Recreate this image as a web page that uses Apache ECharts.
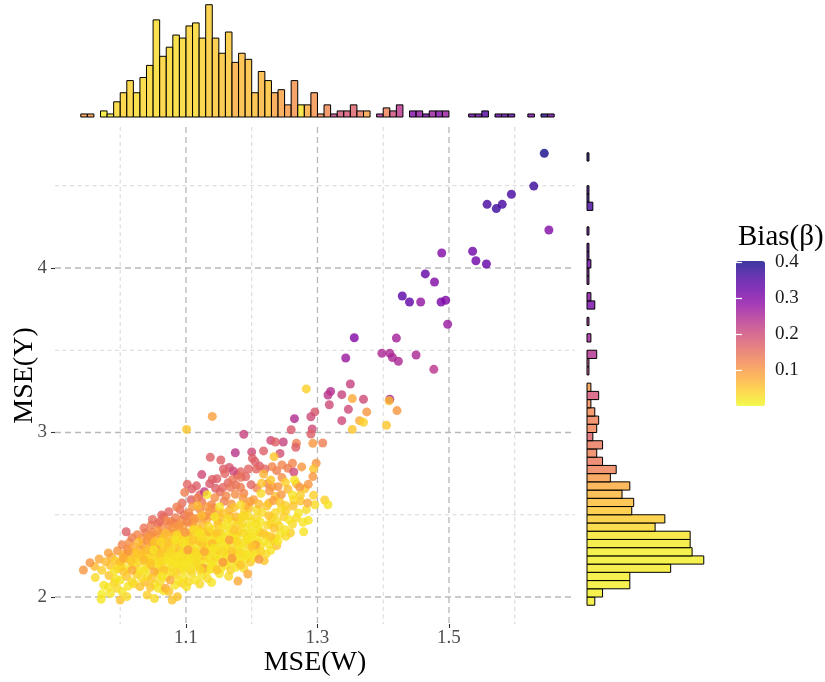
<!DOCTYPE html>
<html>
<head>
<meta charset="utf-8">
<script src="https://cdn.jsdelivr.net/npm/echarts@6/dist/echarts.min.js"></script>
<style>
  html, body { margin: 0; padding: 0; background: #fff; }
  #chart { width: 825px; height: 682px; }
</style>
</head>
<body>
<div id="chart"></div>
<script>
// Simulation results: [MSE(W), MSE(Y), Bias(beta)] -- bulk of the runs in the dense core
const corePoints = [
  [1.052,1.991,0.03],
  [0.985,2.021,0.02],[1.041,2.012,0.04],[1.066,2.038,0.02],
  [0.975,2.072,0.02],[0.991,2.088,0.04],[1.012,2.066,0.02],[1.021,2.081,0.03],[1.038,2.091,0.06],[1.052,2.077,0.02],
  [1.061,2.094,0.03],[1.083,2.071,0.02],[1.094,2.084,0.04],[1.101,2.062,0.02],[1.121,2.079,0.03],[1.139,2.088,0.02],
  [0.962,2.118,0.03],[0.983,2.131,0.05],[0.993,2.108,0.02],[1.025,2.138,0.04],[1.042,2.127,0.02],[1.057,2.142,0.03],
  [1.071,2.121,0.02],[1.085,2.136,0.04],[1.097,2.118,0.02],[1.124,2.131,0.02],[1.133,2.112,0.03],[1.151,2.141,0.02],
  [1.165,2.126,0.03],
  [0.961,2.186,0.06],[0.972,2.163,0.04],[0.985,2.191,0.05],[0.991,2.157,0.02],[1.001,2.183,0.03],[1.011,2.171,0.02],
  [1.023,2.192,0.05],[1.029,2.158,0.02],[1.041,2.178,0.03],[1.047,2.195,0.07],[1.056,2.169,0.02],[1.063,2.186,0.04],
  [1.071,2.161,0.02],[1.078,2.179,0.03],[1.086,2.192,0.02],[1.092,2.171,0.05],[1.101,2.185,0.02],[1.107,2.163,0.03],
  [1.114,2.189,0.02],[1.121,2.176,0.04],[1.131,2.158,0.02],[1.144,2.181,0.03],[1.153,2.172,0.02],[1.161,2.193,0.02],
  [1.168,2.165,0.04],[1.176,2.181,0.02],[1.188,2.175,0.03],
  [0.968,2.231,0.08],[0.978,2.214,0.06],[0.987,2.242,0.07],[0.993,2.221,0.04],[1.002,2.204,0.03],[1.007,2.246,0.06],
  [1.013,2.229,0.04],[1.019,2.208,0.02],[1.024,2.238,0.05],[1.031,2.216,0.03],[1.035,2.247,0.07],[1.041,2.231,0.04],
  [1.045,2.211,0.02],[1.051,2.242,0.05],[1.055,2.224,0.03],[1.059,2.203,0.02],[1.065,2.236,0.04],[1.069,2.247,0.06],
  [1.072,2.219,0.02],[1.078,2.232,0.03],[1.082,2.207,0.02],[1.087,2.241,0.05],[1.091,2.222,0.02],[1.095,2.236,0.03],
  [1.099,2.203,0.02],[1.104,2.244,0.04],[1.108,2.226,0.02],[1.112,2.212,0.02],[1.118,2.238,0.03],[1.123,2.221,0.02],
  [1.127,2.247,0.05],[1.131,2.206,0.02],[1.136,2.232,0.03],[1.141,2.218,0.02],[1.146,2.244,0.04],[1.151,2.227,0.02],
  [1.157,2.208,0.02],[1.162,2.241,0.03],[1.167,2.219,0.02],[1.173,2.232,0.02],[1.179,2.211,0.03],[1.185,2.243,0.02],
  [1.191,2.226,0.02],[1.198,2.212,0.04],[1.204,2.238,0.02],[1.219,2.221,0.05],
  [0.982,2.268,0.09],[0.996,2.281,0.10],[1.004,2.259,0.07],[1.011,2.292,0.11],[1.018,2.271,0.06],[1.026,2.256,0.04],
  [1.031,2.289,0.08],[1.037,2.268,0.05],[1.044,2.252,0.03],[1.049,2.279,0.06],[1.055,2.297,0.09],[1.058,2.263,0.03],
  [1.064,2.284,0.05],[1.068,2.253,0.02],[1.073,2.294,0.07],[1.079,2.262,0.03],[1.083,2.281,0.04],[1.089,2.297,0.06],
  [1.093,2.266,0.02],[1.097,2.281,0.03],[1.106,2.257,0.02],[1.109,2.293,0.05],[1.113,2.279,0.03],[1.119,2.258,0.02],
  [1.124,2.291,0.04],[1.133,2.266,0.02],[1.137,2.283,0.03],[1.146,2.261,0.02],[1.149,2.289,0.04],[1.159,2.262,0.02],
  [1.163,2.292,0.03],[1.174,2.259,0.02],[1.177,2.289,0.03],[1.187,2.281,0.02],[1.196,2.263,0.02],[1.203,2.288,0.03],
  [1.208,2.258,0.02],[1.214,2.276,0.04],[1.222,2.262,0.03],[1.229,2.284,0.02],
  [1.003,2.318,0.12],[1.014,2.331,0.11],[1.021,2.306,0.08],[1.034,2.318,0.09],[1.041,2.341,0.11],[1.046,2.309,0.06],
  [1.057,2.322,0.07],[1.064,2.345,0.10],[1.067,2.311,0.04],[1.078,2.338,0.06],[1.081,2.313,0.03],[1.089,2.326,0.04],
  [1.092,2.348,0.07],[1.102,2.312,0.02],[1.105,2.333,0.04],[1.116,2.319,0.02],[1.119,2.342,0.05],[1.129,2.311,0.02],
  [1.133,2.333,0.03],[1.144,2.344,0.04],[1.147,2.309,0.02],[1.156,2.331,0.02],[1.161,2.314,0.02],[1.169,2.326,0.03],
  [1.174,2.349,0.04],[1.181,2.312,0.02],[1.186,2.331,0.02],[1.195,2.319,0.03],[1.199,2.341,0.02],[1.208,2.333,0.02],
  [1.213,2.307,0.03],[1.219,2.338,0.02],[1.226,2.321,0.02],[1.233,2.344,0.03],[1.238,2.312,0.05],[1.047,2.336,0.09],
  [1.125,2.326,0.05],[1.138,2.318,0.02],
  [1.018,2.361,0.13],[1.026,2.379,0.12],[1.033,2.356,0.10],[1.039,2.391,0.13],[1.048,2.372,0.09],[1.053,2.358,0.07],
  [1.061,2.382,0.09],[1.066,2.361,0.05],[1.074,2.397,0.11],[1.077,2.368,0.05],[1.084,2.389,0.07],[1.091,2.359,0.03],
  [1.094,2.381,0.05],[1.104,2.369,0.03],[1.107,2.392,0.06],[1.116,2.363,0.02],[1.119,2.381,0.03],[1.128,2.394,0.05],
  [1.131,2.368,0.02],[1.139,2.382,0.03],[1.143,2.358,0.02],[1.152,2.391,0.04],[1.156,2.368,0.02],[1.164,2.381,0.02],
  [1.168,2.356,0.02],[1.177,2.372,0.03],[1.181,2.396,0.04],[1.193,2.366,0.02],[1.197,2.381,0.02],[1.208,2.363,0.02],
  [1.212,2.393,0.04],[1.223,2.374,0.02],[1.236,2.359,0.03],[1.244,2.386,0.02],[1.252,2.369,0.03],[1.259,2.391,0.04],
  [1.049,2.393,0.12],[1.099,2.357,0.03],[1.134,2.397,0.06],[1.172,2.362,0.02],
  [1.036,2.419,0.14],[1.047,2.437,0.13],[1.063,2.421,0.11],[1.074,2.441,0.12],[1.088,2.413,0.08],[1.096,2.431,0.09],
  [1.108,2.446,0.09],[1.117,2.421,0.05],[1.126,2.438,0.06],[1.141,2.409,0.03],[1.149,2.443,0.05],[1.155,2.424,0.03],
  [1.168,2.412,0.02],[1.179,2.439,0.04],[1.191,2.421,0.02],[1.207,2.442,0.03],[1.211,2.414,0.02],[1.242,2.431,0.03],
  [1.251,2.409,0.02],[1.262,2.442,0.03],[1.083,2.447,0.13],[1.121,2.403,0.04],[1.186,2.447,0.03],[1.229,2.446,0.04],
  [1.057,2.446,0.14],
  [1.049,2.471,0.15],[1.066,2.488,0.14],[1.077,2.459,0.12],[1.084,2.482,0.13],[1.094,2.466,0.11],[1.106,2.491,0.12],
  [1.111,2.456,0.09],[1.119,2.478,0.09],[1.131,2.467,0.07],[1.139,2.493,0.09],[1.148,2.462,0.05],[1.153,2.481,0.06],
  [1.167,2.491,0.05],[1.171,2.458,0.03],[1.181,2.469,0.03],[1.199,2.461,0.02],[1.207,2.481,0.03],[1.213,2.457,0.02],
  [1.238,2.462,0.03],[1.249,2.488,0.04],[1.257,2.469,0.02],[1.268,2.481,0.03],[1.097,2.498,0.14],[1.128,2.491,0.11],
  [1.189,2.494,0.04],[1.231,2.484,0.03],[1.286,2.466,0.02],
  [1.074,2.518,0.16],[1.091,2.531,0.15],[1.104,2.512,0.12],[1.121,2.533,0.12],[1.141,2.541,0.11],[1.149,2.516,0.08],
  [1.166,2.528,0.07],[1.189,2.521,0.04],[1.196,2.541,0.05],[1.208,2.529,0.03],[1.236,2.512,0.03],[1.252,2.524,0.04],
  [1.271,2.511,0.02],[1.283,2.531,0.03],
  [1.094,2.571,0.15],[1.124,2.578,0.14],[1.139,2.561,0.12],[1.158,2.582,0.13],[1.169,2.566,0.10],[1.192,2.558,0.07],
  [1.203,2.591,0.09],[1.226,2.571,0.06],[1.251,2.556,0.04],[1.274,2.583,0.05],[1.296,2.561,0.03],[1.108,2.591,0.17],
  [1.121,2.621,0.16],[1.152,2.638,0.15],[1.188,2.631,0.12],[1.236,2.611,0.06],
  [1.116,2.676,0.17],[1.136,2.689,0.18],[1.164,2.694,0.16],[1.176,2.681,0.15],[1.208,2.662,0.12],[1.224,2.689,0.13],
  [1.231,2.671,0.09],[1.268,2.688,0.07],[1.281,2.658,0.05],
  [1.178,2.741,0.17],[1.246,2.726,0.11],
  [1.166,2.788,0.18],[1.183,2.761,0.16],[1.212,2.796,0.17],[1.238,2.768,0.13],[1.276,2.791,0.10]
];

// Runs around the edge of the cloud and along the upper tail
const edgePoints = [
  [1.283,3.265,0.04],[1.320,3.250,0.24],[1.316,3.228,0.23],[1.350,3.295,0.21],[1.337,3.230,0.21],
  [1.353,3.206,0.08],[1.318,3.169,0.20],[1.347,3.141,0.20],[1.337,3.072,0.20],[1.353,3.019,0.05],
  [1.364,3.072,0.08],[1.296,3.125,0.18],[1.290,3.096,0.20],[1.265,3.084,0.24],[1.292,3.021,0.20],
  [1.290,2.991,0.17],[1.260,3.017,0.18],[1.188,2.989,0.21],[1.140,3.098,0.09],[1.101,3.019,0.05],
  [1.229,2.952,0.20],[1.248,2.942,0.21],[1.236,2.942,0.17],[1.268,2.934,0.13],[1.267,2.910,0.17],
  [1.293,2.934,0.10],[1.308,2.936,0.13],[1.243,2.873,0.19],[1.200,2.882,0.20],[1.175,2.877,0.23],
  [1.218,2.888,0.17],[1.201,2.843,0.17],[1.234,2.853,0.05],[1.205,2.823,0.17],[1.137,2.849,0.17],
  [1.153,2.833,0.17],[1.262,2.813,0.12],[1.246,2.803,0.12],[1.231,2.792,0.12],[1.220,2.778,0.16],
  [1.207,2.778,0.16],[1.195,2.778,0.16],[1.298,2.813,0.10],[1.294,2.778,0.05],[1.255,2.782,0.13],
  [1.264,2.760,0.20],[1.157,2.778,0.17],[1.172,2.766,0.20],[1.147,2.719,0.17],[1.140,2.715,0.17],
  [1.159,2.750,0.16],[1.124,2.744,0.20],[1.171,2.715,0.14],[1.184,2.728,0.14],[1.191,2.732,0.16],
  [1.218,2.748,0.07],[1.229,2.711,0.05],[1.293,2.732,0.10],[1.265,2.711,0.02],[1.251,2.697,0.04],
  [1.215,2.691,0.05],[1.240,2.671,0.10],[1.273,2.667,0.10],[1.286,2.685,0.10],[1.102,2.685,0.16],
  [1.109,2.657,0.17],[1.098,2.636,0.13],[1.128,2.640,0.22],[1.145,2.661,0.17],[1.156,2.665,0.16],
  [1.168,2.667,0.14],[1.183,2.667,0.13],[1.199,2.683,0.16],[1.214,2.630,0.03],[1.227,2.646,0.10],
  [1.255,2.655,0.06],[1.245,2.622,0.10],[1.262,2.620,0.02],[1.274,2.620,0.04],[1.294,2.618,0.04],
  [1.132,2.622,0.02],[1.117,2.600,0.13],[1.144,2.604,0.11],[1.161,2.614,0.12],[1.175,2.624,0.11],
  [1.187,2.600,0.10],[1.198,2.580,0.09],[1.233,2.586,0.09],[1.243,2.576,0.05],[1.264,2.590,0.03],
  [1.285,2.572,0.08],[1.311,2.590,0.04],[1.316,2.561,0.02],[1.086,2.547,0.13],[1.110,2.549,0.10],
  [1.118,2.555,0.06],[1.132,2.549,0.10],[1.151,2.549,0.02],[1.173,2.543,0.05],[1.183,2.559,0.03],
  [1.211,2.565,0.06],[1.223,2.553,0.05],[1.216,2.513,0.03],[1.226,2.494,0.05],[1.245,2.537,0.03],
  [1.263,2.553,0.05],[1.063,2.499,0.16],[1.070,2.464,0.12],[1.060,2.458,0.15],[1.090,2.438,0.10],
  [1.102,2.458,0.12],[1.113,2.478,0.10],[1.124,2.497,0.06],[1.136,2.519,0.10],[1.144,2.488,0.02],
  [1.157,2.509,0.05],[1.163,2.474,0.03],[1.176,2.488,0.06],[1.185,2.488,0.03],[1.195,2.492,0.03],
  [1.200,2.428,0.02],[1.224,2.438,0.03],[1.234,2.418,0.05],[1.218,2.387,0.05],[1.229,2.367,0.05],
  [1.278,2.454,0.02],[1.279,2.397,0.02],[1.240,2.340,0.02],[1.009,2.397,0.17],[1.043,2.367,0.10],
  [1.057,2.403,0.10],[1.069,2.387,0.06],[1.080,2.418,0.10],[1.086,2.377,0.03],[1.099,2.393,0.10],
  [1.112,2.411,0.03],[1.122,2.387,0.02],[1.135,2.428,0.03],[1.147,2.387,0.05],[1.161,2.438,0.02],
  [1.173,2.407,0.05],[1.187,2.387,0.03],[1.202,2.387,0.02],[1.028,2.334,0.06],[1.052,2.330,0.05],
  [1.062,2.336,0.03],[1.073,2.326,0.05],[1.084,2.347,0.02],[1.096,2.326,0.02],[1.111,2.347,0.05],
  [1.126,2.357,0.03],[1.140,2.326,0.06],[1.152,2.347,0.02],[1.166,2.347,0.09],[1.178,2.336,0.03],
  [1.193,2.347,0.02],[1.206,2.316,0.08],[1.012,2.276,0.10],[1.025,2.270,0.05],[1.040,2.286,0.06],
  [1.051,2.286,0.02],[1.061,2.266,0.05],[1.076,2.276,0.03],[1.086,2.245,0.02],[1.103,2.286,0.09],
  [1.115,2.266,0.03],[1.128,2.276,0.08],[1.142,2.296,0.02],[1.156,2.276,0.03],[1.170,2.276,0.05],
  [1.183,2.266,0.03],[1.193,2.255,0.02],[1.200,2.306,0.05],[1.211,2.229,0.10],[0.954,2.209,0.10],
  [0.944,2.164,0.10],[0.999,2.209,0.06],[1.005,2.235,0.08],[1.016,2.219,0.05],[1.036,2.225,0.06],
  [1.046,2.205,0.05],[1.061,2.215,0.03],[1.074,2.215,0.02],[1.089,2.199,0.02],[1.102,2.215,0.02],
  [1.117,2.205,0.03],[1.127,2.174,0.09],[1.140,2.195,0.02],[1.156,2.211,0.10],[1.170,2.235,0.10],
  [1.183,2.195,0.05],[0.996,2.174,0.03],[1.005,2.154,0.05],[1.018,2.164,0.08],[1.036,2.164,0.02],
  [1.052,2.154,0.08],[1.066,2.164,0.05],[1.081,2.150,0.03],[1.096,2.164,0.02],[1.109,2.144,0.03],
  [1.122,2.164,0.03],[1.137,2.168,0.02],[1.147,2.164,0.05],[1.194,2.140,0.08],[1.000,2.103,0.02],
  [1.010,2.124,0.05],[1.018,2.093,0.03],[1.033,2.114,0.03],[1.048,2.114,0.05],[1.063,2.124,0.02],
  [1.076,2.103,0.08],[1.089,2.099,0.02],[1.104,2.093,0.03],[1.114,2.103,0.02],[1.179,2.097,0.08],
  [0.982,2.059,0.02],[0.995,2.053,0.03],[1.003,2.033,0.02],[0.972,2.018,0.01],[1.030,2.063,0.05],
  [1.046,2.059,0.05],[1.058,2.053,0.02],[1.069,2.053,0.08],[1.074,2.033,0.05],[0.971,1.986,0.02],
  [1.000,1.982,0.05],[1.010,2.002,0.03],[1.079,1.982,0.05],[1.087,2.002,0.05],
  [1.370,3.202,0.20],[1.375,3.125,0.10],[1.370,3.062,0.04],[1.410,3.202,0.25],[1.409,3.193,0.06],
  [1.421,3.133,0.10],[1.405,3.044,0.05],
  [1.356,3.576,0.30],[1.420,3.574,0.26],[1.343,3.453,0.27],[1.398,3.481,0.25],[1.410,3.481,0.25],
  [1.414,3.456,0.25],[1.423,3.433,0.25],[1.450,3.471,0.25],[1.477,3.384,0.23],[1.498,3.658,0.27],
  [1.440,3.793,0.33],[1.429,3.830,0.34],[1.457,3.793,0.28],[1.488,3.793,0.31],[1.495,3.804,0.30],
  [1.464,3.964,0.33],[1.478,3.915,0.30],[1.489,4.091,0.30],[1.536,4.102,0.32],[1.541,4.044,0.32],
  [1.557,4.024,0.33],[1.558,4.387,0.36],[1.572,4.361,0.37],[1.581,4.387,0.36],[1.595,4.448,0.36],
  [1.629,4.498,0.37],[1.645,4.697,0.40],[1.652,4.231,0.30]
];

// Marginal histogram of MSE(W): bins of 0.01 starting at 0.94
const topBinStart = 0.94;
const topBinWidth = 0.01;
const topCounts = [
  1,1,0,2,1,5,8,12,8,13,
  17,32,20,23,27,26,30,31,26,37,
  26,21,28,18,21,19,8,15,12,8,
  9,4,12,4,4,8,1,4,1,2,
  2,4,2,2,0,1,3,2,4,0,
  2,2,1,2,2,2,0,0,0,1,
  1,2,0,1,1,1,0,0,1,0,
  1,1
];
const topBias = [
  0.10,0.10,0,0.015,0.02,0.035,0.04,0.04,0.03,0.035,
  0.035,0.03,0.04,0.035,0.03,0.035,0.04,0.035,0.04,0.045,
  0.05,0.055,0.05,0.08,0.065,0.06,0.06,0.07,0.055,0.09,
  0.09,0.10,0.11,0.02,0.08,0.11,0.11,0.12,0.22,0.19,
  0.19,0.17,0.14,0.09,0,0.24,0.13,0.20,0.23,0,
  0.30,0.28,0.31,0.27,0.30,0.27,0,0,0,0.32,
  0.32,0.35,0,0.33,0.33,0.33,0,0,0.31,0,
  0.38,0.31
];

// Marginal histogram of MSE(Y): bins of 0.05 starting at 1.95
const rightBinStart = 1.95;
const rightBinWidth = 0.05;
const rightCounts = [
  4,8,22,22,43,60,54,53,53,35,
  40,23,24,18,22,12,15,8,5,8,
  3,5,6,4,2,6,2,0,1,1,
  5,0,2,0,1,0,4,2,0,1,
  1,2,1,1,0,1,0,0,3,1,
  1,0,0,0,1
];
const rightBias = [
  0.01,0.01,0.01,0.01,0.015,0.01,0.01,0.015,0.02,0.035,
  0.045,0.05,0.06,0.07,0.08,0.10,0.13,0.14,0.13,0.14,
  0.17,0.13,0.13,0.12,0.12,0.19,0.10,0,0.22,0.22,
  0.24,0,0.26,0,0.27,0,0.31,0.29,0,0.30,
  0.31,0.32,0.33,0.33,0,0.32,0,0,0.36,0.36,
  0.36,0,0,0,0.39
];

// Axis ticks and grid positions
const xMajor = [1.1, 1.3, 1.5];
const xMinor = [1.0, 1.2, 1.4, 1.6];
const yMajor = [2, 3, 4];
const yMinor = [2.5, 3.5, 4.5];
const biasTicks = [0.1, 0.2, 0.3, 0.4];

const biasMax = 0.403;
const plasmaRev = ['#f0f921','#fcce25','#fca636','#f2844b','#e16462','#cc4778',
                   '#b12a90','#8f0da4','#6a00a8','#41049d','#0d0887'];
// same ramp seen through 80% opacity on white, for the colour bar
const plasmaRevSoft = ['#f3fa4d','#fdd851','#fdb85e','#f59d6f','#e78381','#d66c93',
                       '#c155a6','#a53db6','#8833b9','#6736b1','#3d399f'];

const FONT = 'Liberation Serif';
const X_RANGE = [0.9008, 1.6917];
const Y_RANGE = [1.836, 4.857];

const points = corePoints.concat(edgePoints);

const topData = [];
topCounts.forEach((c, i) => {
  if (c > 0) topData.push([topBinStart + i * topBinWidth, topBinStart + (i + 1) * topBinWidth, topBias[i], c]);
});
const rightData = [];
rightCounts.forEach((c, i) => {
  if (c > 0) rightData.push([rightBinStart + i * rightBinWidth, rightBinStart + (i + 1) * rightBinWidth, rightBias[i], c]);
});
const gridData = [];
xMajor.forEach(v => gridData.push([v, 1, 1]));
xMinor.forEach(v => gridData.push([v, 0, 1]));
yMajor.forEach(v => gridData.push([v, 1, 0]));
yMinor.forEach(v => gridData.push([v, 0, 0]));

function soft(c) { return echarts.color.modifyAlpha(c, 0.8); }

function renderGridLine(params, api) {
  const v = api.value(0), major = api.value(1) === 1, vertical = api.value(2) === 1;
  const cs = params.coordSys;
  let shape;
  if (vertical) {
    const px = api.coord([v, Y_RANGE[0]])[0];
    shape = { x1: px, y1: cs.y, x2: px, y2: cs.y + cs.height };
  } else {
    const py = api.coord([X_RANGE[0], v])[1];
    shape = { x1: cs.x, y1: py, x2: cs.x + cs.width, y2: py };
  }
  return {
    type: 'line', shape,
    style: major
      ? { stroke: '#b8b8b8', lineWidth: 1.3, lineDash: [6, 4] }
      : { stroke: '#cdcdcd', lineWidth: 0.8, lineDash: [4, 3.5] }
  };
}

function renderTopBar(params, api) {
  const a = api.coord([api.value(0), 0]);
  const b = api.coord([api.value(1), api.value(3)]);
  return {
    type: 'rect',
    shape: { x: a[0], y: b[1], width: b[0] - a[0], height: a[1] - b[1] },
    style: { fill: soft(api.visual('color')), stroke: '#000', lineWidth: 1 }
  };
}

function renderRightBar(params, api) {
  const a = api.coord([0, api.value(0)]);
  const b = api.coord([api.value(3), api.value(1)]);
  return {
    type: 'rect',
    shape: { x: a[0], y: b[1], width: b[0] - a[0], height: a[1] - b[1] },
    style: { fill: soft(api.visual('color')), stroke: '#000', lineWidth: 1 }
  };
}

const hidden = {
  axisLine: { show: false }, axisTick: { show: false },
  axisLabel: { show: false }, splitLine: { show: false }
};

const chart = echarts.init(document.getElementById('chart'), null, { renderer: 'canvas' });
chart.setOption({
  backgroundColor: '#fff',
  animation: false,
  title: {
    text: 'Bias(β)', left: 733, top: 218,
    textStyle: { fontFamily: FONT, fontSize: 29, fontWeight: 'normal', color: '#000' }
  },
  grid: [
    { left: 55, top: 127, width: 520, height: 497, containLabel: false, outerBoundsMode: 'none' },
    { left: 55, top: 0, width: 520, height: 117, containLabel: false, outerBoundsMode: 'none' },
    { left: 587, top: 127, width: 123, height: 497, containLabel: false, outerBoundsMode: 'none' },
    { left: 736, top: 261, width: 29, height: 145, containLabel: false, outerBoundsMode: 'none' }
  ],
  xAxis: [
    {
      gridIndex: 0, type: 'value', min: X_RANGE[0], max: X_RANGE[1],
      name: 'MSE(W)', nameLocation: 'middle', nameGap: 25, nameMoveOverlap: false,
      nameTextStyle: { fontFamily: FONT, fontSize: 28, color: '#000' },
      axisLine: { show: false },
      axisTick: { show: true, customValues: xMajor, length: 4, lineStyle: { color: '#333', width: 1.1 } },
      axisLabel: { customValues: xMajor, fontFamily: FONT, fontSize: 19, color: '#4d4d4d', margin: 5,
                   formatter: v => v.toFixed(1) },
      splitLine: { show: false }
    },
    Object.assign({ gridIndex: 1, type: 'value', min: X_RANGE[0], max: X_RANGE[1] }, hidden),
    Object.assign({ gridIndex: 2, type: 'value', min: 0, max: 63.2 }, hidden),
    Object.assign({ gridIndex: 3, type: 'value', min: 0, max: 1 }, hidden)
  ],
  yAxis: [
    {
      gridIndex: 0, type: 'value', min: Y_RANGE[0], max: Y_RANGE[1],
      name: 'MSE(Y)', nameLocation: 'middle', nameGap: 16, nameMoveOverlap: false,
      nameTextStyle: { fontFamily: FONT, fontSize: 28, color: '#000' },
      axisLine: { show: false },
      axisTick: { show: true, customValues: yMajor, length: 4, lineStyle: { color: '#333', width: 1.1 } },
      axisLabel: { customValues: yMajor, fontFamily: FONT, fontSize: 19, color: '#4d4d4d', margin: 8 },
      splitLine: { show: false }
    },
    Object.assign({ gridIndex: 1, type: 'value', min: 0, max: 38.55 }, hidden),
    Object.assign({ gridIndex: 2, type: 'value', min: Y_RANGE[0], max: Y_RANGE[1] }, hidden),
    {
      gridIndex: 3, type: 'value', min: 0, max: biasMax, position: 'right', z: 10,
      axisLine: { show: false },
      axisTick: { show: true, inside: true, customValues: biasTicks, length: 6, lineStyle: { color: '#fff', width: 1.2 } },
      axisLabel: { customValues: biasTicks, fontFamily: FONT, fontSize: 19, color: '#1a1a1a', margin: 10,
                   formatter: v => v.toFixed(1) },
      splitLine: { show: false }
    },
    {
      gridIndex: 3, type: 'value', min: 0, max: biasMax, position: 'left', z: 10,
      axisLine: { show: false },
      axisTick: { show: true, inside: true, customValues: biasTicks, length: 6, lineStyle: { color: '#fff', width: 1.2 } },
      axisLabel: { show: false },
      splitLine: { show: false }
    }
  ],
  visualMap: {
    type: 'continuous', min: 0, max: biasMax, dimension: 2,
    seriesIndex: [1, 2, 3],
    orient: 'vertical', left: 736, top: 261, padding: 0,
    itemWidth: 29, itemHeight: 145, calculable: false, text: null, showLabel: false,
    inRange: { color: plasmaRev },
    controller: { inRange: { color: plasmaRevSoft } }
  },
  series: [
    {
      type: 'custom', name: 'grid', xAxisIndex: 0, yAxisIndex: 0, z: 1, silent: true,
      renderItem: renderGridLine, data: gridData
    },
    {
      type: 'scatter', name: 'runs', xAxisIndex: 0, yAxisIndex: 0, z: 2,
      symbolSize: 9, itemStyle: { opacity: 0.8 },
      data: points
    },
    {
      type: 'custom', name: 'MSE(W) histogram', xAxisIndex: 1, yAxisIndex: 1, z: 2,
      renderItem: renderTopBar, data: topData
    },
    {
      type: 'custom', name: 'MSE(Y) histogram', xAxisIndex: 2, yAxisIndex: 2, z: 2,
      renderItem: renderRightBar, data: rightData
    }
  ]
});
</script>
</body>
</html>
